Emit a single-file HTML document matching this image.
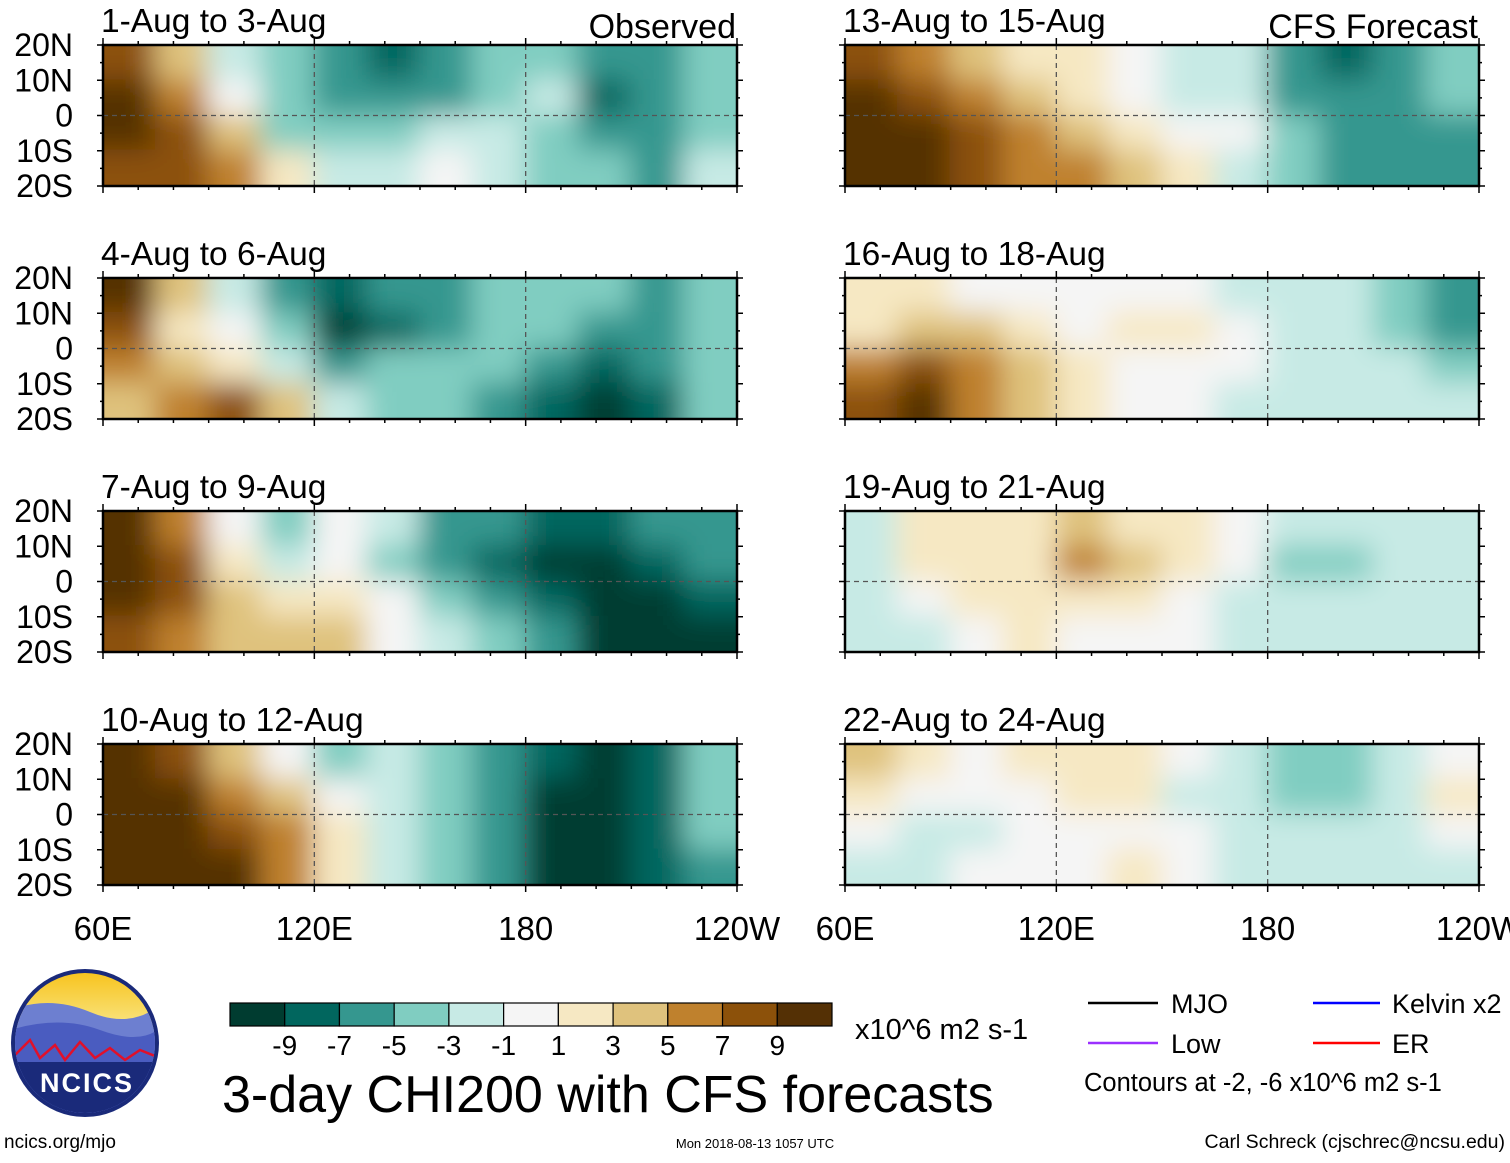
<!DOCTYPE html>
<html><head><meta charset="utf-8">
<style>
html,body{margin:0;padding:0;background:#fff;}
body{width:1510px;height:1158px;overflow:hidden;font-family:"Liberation Sans",sans-serif;}
svg text{font-family:"Liberation Sans",sans-serif;}
</style></head>
<body>
<svg id="chart" width="1510" height="1158" xmlns="http://www.w3.org/2000/svg">
<defs>
<filter id="blur" x="-5%" y="-5%" width="110%" height="110%"><feGaussianBlur stdDeviation="14"/></filter>
<linearGradient id="sky" x1="0" y1="0" x2="0" y2="1">
<stop offset="0" stop-color="#f7c21a"/><stop offset="0.35" stop-color="#f9e27a"/><stop offset="0.45" stop-color="#8fa6d8"/><stop offset="1" stop-color="#3b4fa8"/></linearGradient>
</defs>
<g id="panels"></g>
<g id="colorbar"></g>
<text x="855" y="1039" font-size="29">x10^6 m2 s-1</text>
<text x="222" y="1112" font-size="52">3-day CHI200 with CFS forecasts</text>
<g>
<line x1="1088" y1="1003" x2="1158" y2="1003" stroke="#000" stroke-width="2.5"/>
<text x="1171" y="1013" font-size="27">MJO</text>
<line x1="1313" y1="1003" x2="1380" y2="1003" stroke="#0000ff" stroke-width="2.5"/>
<text x="1392" y="1013" font-size="27">Kelvin x2</text>
<line x1="1088" y1="1043" x2="1158" y2="1043" stroke="#9b30ff" stroke-width="2.5"/>
<text x="1171" y="1053" font-size="27">Low</text>
<line x1="1313" y1="1043" x2="1380" y2="1043" stroke="#ff0000" stroke-width="2.5"/>
<text x="1392" y="1053" font-size="27">ER</text>
<text x="1084" y="1091" font-size="25.5">Contours at -2, -6 x10^6 m2 s-1</text>
</g>
<g>
<circle cx="85" cy="1043" r="74" fill="#1a2a7a"/>
<clipPath id="lc"><circle cx="85" cy="1043" r="70"/></clipPath>
<g clip-path="url(#lc)">
<rect x="10" y="970" width="150" height="150" fill="url(#sky)"/>
<path d="M10 1010 Q50 995 90 1012 T160 1005 L160 1120 L10 1120Z" fill="#6d7fd0"/>
<path d="M10 1030 Q60 1015 100 1030 T160 1028 L160 1120 L10 1120Z" fill="#4a5cc0"/>
<path d="M15 1055 L30 1040 L40 1058 L55 1045 L65 1060 L80 1042 L95 1058 L110 1048 L125 1060 L140 1050 L160 1058" fill="none" stroke="#e0102a" stroke-width="2.5"/>
<rect x="10" y="1062" width="150" height="60" fill="#1a2a7a"/>
</g>
<text x="87" y="1092" font-size="27" font-weight="bold" fill="#fff" text-anchor="middle" letter-spacing="2">NCICS</text>
</g>
<text x="4" y="1148" font-size="19">ncics.org/mjo</text>
<text x="755" y="1148" font-size="13" text-anchor="middle">Mon 2018-08-13 1057 UTC</text>
<text x="1505" y="1148" font-size="19.5" text-anchor="end">Carl Schreck (cjschrec@ncsu.edu)</text>
</svg>
<script>
const colors=["#003c30","#01665e","#35978f","#80cdc1","#c7eae5","#f5f5f5","#f6e8c3","#dfc27d","#bf812d","#8c510a","#543005"];
const cbLabels=["-9","-7","-5","-3","-1","1","3","5","7","9"];
const titles=["1-Aug to 3-Aug","4-Aug to 6-Aug","7-Aug to 9-Aug","10-Aug to 12-Aug","13-Aug to 15-Aug","16-Aug to 18-Aug","19-Aug to 21-Aug","22-Aug to 24-Aug"];
const latLabels=["20N","10N","0","10S","20S"];
const lonLabels=["60E","120E","180","120W"];
const fields=[
[[4,2,-1,-2,-3,-4,-3,-2,-2,-3,-3,-2],[5,3,0,-2,-3,-3,-3,-2,-1,-4,-3,-2],[5,4,2,-2,-2,-2,-1,-1,-2,-3,-3,-2],[4,4,3,1,-1,-1,0,-1,-2,-2,-3,-1]],
[[5,2,-1,-3,-4,-3,-3,-2,-2,-2,-3,-2],[4,1,0,-2,-5,-4,-3,-2,-2,-3,-3,-2],[3,2,1,-1,-3,-2,-2,-2,-3,-4,-3,-2],[2,3,4,2,-1,-2,-2,-3,-4,-5,-4,-2]],
[[5,3,0,-2,0,-1,-3,-3,-4,-4,-3,-3],[5,4,1,-1,0,-2,-3,-4,-5,-5,-4,-3],[5,4,2,1,1,0,-2,-3,-4,-5,-5,-4],[4,3,2,2,2,0,-1,-2,-3,-5,-5,-5]],
[[5,4,2,0,-2,-1,-2,-3,-4,-5,-4,-2],[5,5,3,2,0,-1,-2,-3,-5,-5,-4,-2],[5,5,4,3,1,-1,-2,-3,-5,-5,-4,-2],[5,5,5,3,1,-1,-2,-3,-5,-5,-4,-3]],
[[4,3,2,1,1,0,-1,-1,-3,-4,-3,-2],[5,4,3,2,1,0,-1,-1,-3,-3,-3,-2],[5,5,4,3,2,1,0,0,-2,-3,-3,-3],[5,5,4,3,3,2,1,-1,-2,-3,-3,-3]],
[[1,1,0,0,0,0,0,-1,-1,-1,-2,-3],[1,2,2,1,0,1,1,0,-1,-1,-2,-3],[3,4,3,2,1,0,0,0,-1,-1,-1,-2],[4,5,3,2,1,0,0,-1,-1,-1,-1,-1]],
[[-1,1,1,1,2,1,1,0,-1,-1,-1,-1],[-1,1,1,1,3,2,1,0,-2,-2,-1,-1],[-1,0,1,1,1,1,0,-1,-1,-1,-1,-1],[-1,-1,0,1,0,0,0,-1,-1,-1,-1,-1]],
[[2,1,0,1,1,1,0,-1,-2,-2,-1,0],[1,0,0,0,1,1,-1,-1,-2,-2,-1,1],[0,-1,-1,0,0,0,0,-1,-1,-1,-1,0],[-1,-1,0,0,0,1,0,-1,-1,-1,-1,-1]]
];
const NS="http://www.w3.org/2000/svg";
function mk(t,a,p){const e=document.createElementNS(NS,t);for(const k in a)e.setAttribute(k,a[k]);if(p)p.appendChild(e);return e;}
const PW=634,PH=141;
const lefts=[103,845],tops=[45,278,511,744];
const panels=document.getElementById('panels');
for(let i=0;i<8;i++){
  const col=i<4?0:1,row=i%4;
  const x0=lefts[col],y0=tops[row];
  const xs=lon=>x0+(lon-60)/180*PW;
  const ys=lat=>y0+(20-lat)/40*PH;
  const g=mk('g',{},panels);
  
  
  const cp=mk('clipPath',{id:'cp'+i},g);
  mk('rect',{x:x0,y:y0,width:PW,height:PH},cp);
  const fg=mk('g',{'clip-path':'url(#cp'+i+')'},g);
  const bg=mk('g',{filter:'url(#blur)'},fg);
  const f=fields[i];
  const nr=f.length,nc=f[0].length;
  for(let r=-1;r<=nr;r++)for(let c=-1;c<=nc;c++){
    const rr=Math.min(nr-1,Math.max(0,r)),cc=Math.min(nc-1,Math.max(0,c));
    const v=f[rr][cc];
    const lon0=60+c*180/nc,lat0=20-r*40/nr;
    const cell=mk('rect',{x:xs(lon0)-1,y:ys(lat0)-1,width:PW/nc+2,height:PH/nr+2,fill:colors[v+5]},bg);
    
    
  }
  mk('line',{x1:x0,x2:x0+PW,y1:ys(0),y2:ys(0),stroke:'#555','stroke-dasharray':'5,4','stroke-width':1.3},fg);
  [120,180].forEach(l=>mk('line',{x1:xs(l),x2:xs(l),y1:y0,y2:y0+PH,stroke:'#555','stroke-dasharray':'5,4','stroke-width':1.3},fg));
  const fr=mk('rect',{x:x0,y:y0,width:PW,height:PH,fill:'none',stroke:'#000','stroke-width':2.5},g);
  
  
  for(let l=60;l<=240;l+=10){const maj=(l%60===0);
    mk('line',{x1:xs(l),x2:xs(l),y1:y0+PH,y2:y0+PH+(maj?7:4),stroke:'#000','stroke-width':1.5},g);
    mk('line',{x1:xs(l),x2:xs(l),y1:y0,y2:y0-(maj?7:4),stroke:'#000','stroke-width':1.5},g);}
  for(let la=-20;la<=20;la+=5){const maj=(la%10===0);
    mk('line',{x1:x0,x2:x0-(maj?6:3),y1:ys(la),y2:ys(la),stroke:'#000','stroke-width':1.5},g);
    mk('line',{x1:x0+PW,x2:x0+PW+(maj?6:3),y1:ys(la),y2:ys(la),stroke:'#000','stroke-width':1.5},g);}
  const t=mk('text',{x:x0-2,y:y0-13,'font-size':33.5},g);t.textContent=titles[i];
  
  
  if(col===0){latLabels.forEach((s,k)=>{const lt=mk('text',{x:73,y:ys(20-k*10)+11,'font-size':32,'text-anchor':'end'},g);lt.textContent=s;
    
    });}
  if(row===3){lonLabels.forEach((s,k)=>{const lt=mk('text',{x:xs(60+k*60),y:940,'font-size':33,'text-anchor':'middle'},g);lt.textContent=s;
    
    });}
}
const ob=mk('text',{x:736,y:38,'font-size':34,'text-anchor':'end'},panels);ob.textContent='Observed';


const cf=mk('text',{x:1478,y:38,'font-size':34,'text-anchor':'end'},panels);cf.textContent='CFS Forecast';


const cb=document.getElementById('colorbar');
const cbx=230,cbw=602,cby=1003,cbh=23,bw=cbw/colors.length;
colors.forEach((c,k)=>{const r=mk('rect',{x:cbx+k*bw,y:cby,width:bw,height:cbh,fill:c,stroke:'#000','stroke-width':1.2},cb);
  
  });
cbLabels.forEach((s,k)=>{const t=mk('text',{x:cbx+(k+1)*bw,y:1055,'font-size':28,'text-anchor':'middle'},cb);t.textContent=s;
  
  });
</script>
</body></html>
